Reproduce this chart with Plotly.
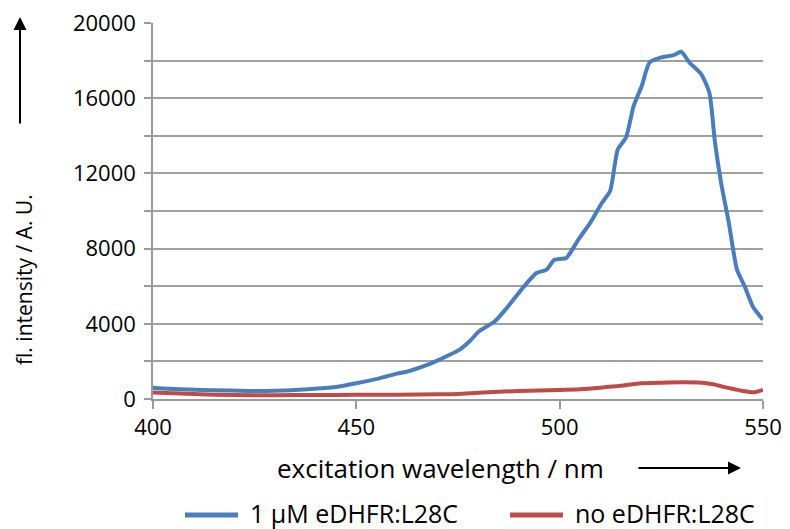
import plotly.graph_objects as go

# --- data ---
wl_blue = [400, 404, 408.8, 415, 423.5, 430, 438.1, 445, 450, 455.7, 460, 462.6, 467.4, 471, 475.3,
           478, 480.1, 484, 487, 490.9, 494.3, 496.8, 498.7, 501.6, 504.6, 507.5, 510.4, 512.4,
           514.3, 516.3, 518.2, 520.2, 522.1, 525, 528, 529.9, 531.9, 534.8, 536.8, 538.2, 539.7,
           541.6, 543.6, 545.5, 547.5, 550]
int_blue = [600, 540, 500, 470, 430, 440, 520, 640, 835, 1100, 1350, 1460, 1810, 2150, 2610,
            3100, 3590, 4120, 4840, 5900, 6700, 6880, 7410, 7500, 8480, 9370, 10440, 11060,
            13280, 13900, 15590, 16660, 17900, 18170, 18290, 18470, 17900, 17280, 16300, 13640, 11500,
            9370, 6880, 5990, 4920, 4210]

wl_red = [400, 410, 420, 430, 440, 450, 460, 470, 475, 480, 490, 500, 505, 510, 515, 520, 525,
          530, 535, 538, 540, 543, 545, 548, 550]
int_red = [340, 260, 210, 205, 210, 220, 230, 250, 270, 330, 430, 480, 520, 600, 700, 835, 870,
           890, 870, 780, 660, 520, 430, 360, 480]

series_names = ["1 μM eDHFR:L28C", "no eDHFR:L28C"]
series_colors = ["#4A7EBB", "#BE4B48"]

y_tickvals = list(range(0, 20001, 2000))
y_ticktext = [str(v) if v % 4000 == 0 else "" for v in y_tickvals]
x_tickvals = [400, 450, 500, 550]

FONT = "Open Sans"
OFF = 8  # default page body margin
W, H = 790 - OFF, 529 - OFF
# target plot area in page pixels: x 153..763, y 23..399
L, T = 153 - OFF, 23 - OFF
R = W - (763 - OFF)
B = H - (399 - OFF)
pw, ph = W - L - R, H - T - B

def px(xp):  # page pixel -> paper
    return (xp - OFF - L) / pw

def py(yp):
    return (H - B - (yp - OFF)) / ph

fig = go.Figure()
fig.add_trace(go.Scatter(x=wl_blue, y=int_blue, mode="lines", name=series_names[0], showlegend=False,
                         line=dict(color=series_colors[0], width=4, shape="spline", smoothing=0.6)))
fig.add_trace(go.Scatter(x=wl_red, y=int_red, mode="lines", name=series_names[1], showlegend=False,
                         line=dict(color=series_colors[1], width=4, shape="spline", smoothing=0.6)))

axis_gray = "#9A9A9A"
fig.update_layout(
    width=W, height=H,
    margin=dict(l=L, r=R, t=T, b=B, autoexpand=False),
    paper_bgcolor="white", plot_bgcolor="white",
    font=dict(family=FONT, size=22, color="black"),
    xaxis=dict(range=[400, 550], tickvals=x_tickvals, showgrid=False, zeroline=False,
               showline=True, linecolor=axis_gray, linewidth=1.5, automargin=False,
               ticks="outside", ticklen=8, tickcolor=axis_gray, tickwidth=1.5,
               tickfont=dict(size=22), ticklabelstandoff=0, ticklabeloverflow="allow"),
    yaxis=dict(range=[0, 20000], tickvals=y_tickvals, ticktext=y_ticktext,
               showgrid=True, gridcolor="#A0A0A0", gridwidth=1.5, zeroline=False,
               showline=True, linecolor=axis_gray, linewidth=1.5, automargin=False,
               ticks="outside", ticklen=7, tickcolor=axis_gray, tickwidth=1.5,
               tickfont=dict(size=22), ticklabelstandoff=4, ticklabeloverflow="allow"),
    showlegend=False,
)

fig.add_annotation(xref="paper", yref="paper", x=px(24), y=py(280), text="fl. intensity / A. U.",
                   textangle=-90, showarrow=False, font=dict(size=21, family=FONT),
                   xanchor="center", yanchor="middle")
fig.add_annotation(xref="paper", yref="paper", x=px(440), y=py(468), text="excitation wavelength / nm",
                   showarrow=False, font=dict(size=26, family=FONT), xanchor="center", yanchor="middle")
# axis direction arrows
fig.add_annotation(xref="paper", yref="paper", x=px(20), y=py(17), ax=0, ay=108,
                   axref="pixel", ayref="pixel", text="", showarrow=True,
                   arrowhead=2, arrowsize=1.3, arrowwidth=2, arrowcolor="black")
fig.add_annotation(xref="paper", yref="paper", x=px(741), y=py(468), ax=-104, ay=0,
                   axref="pixel", ayref="pixel", text="", showarrow=True,
                   arrowhead=2, arrowsize=1.3, arrowwidth=2, arrowcolor="black")

# legend (drawn below the axis title)
LEG_Y = 513
legend_items = [(185, 238, 248), (510, 563, 573)]
for (x0, x1, xt), name, color in zip(legend_items, series_names, series_colors):
    fig.add_shape(type="line", xref="paper", yref="paper", x0=px(x0), x1=px(x1),
                  y0=py(LEG_Y + 2), y1=py(LEG_Y + 2), line=dict(color=color, width=5))
    fig.add_annotation(xref="paper", yref="paper", x=px(xt), y=py(LEG_Y), text=name, showarrow=False,
                       font=dict(size=25, family=FONT), xanchor="left", yanchor="middle")

fig.write_html("out.html")
